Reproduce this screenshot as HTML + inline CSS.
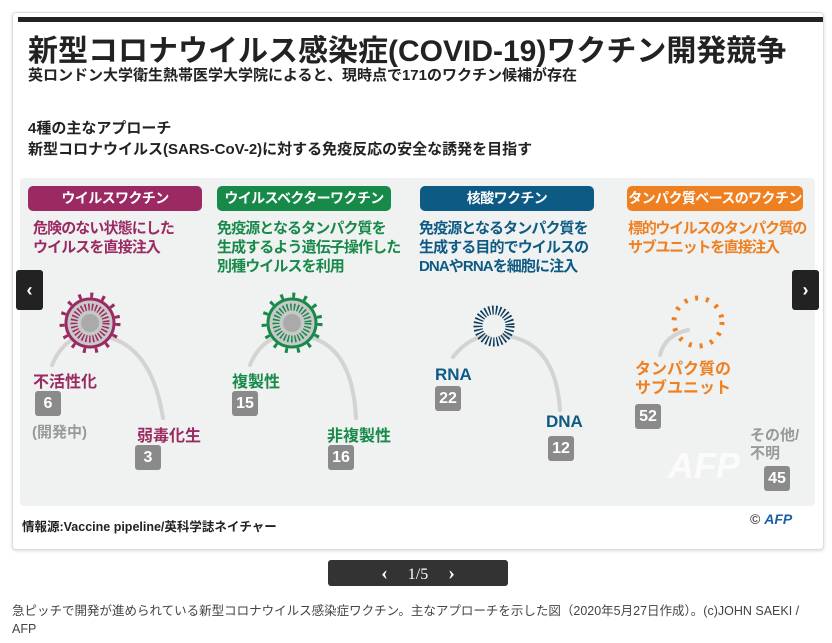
<!DOCTYPE html>
<html><head><meta charset="utf-8"><style>
*{margin:0;padding:0;box-sizing:border-box}
body{width:832px;height:643px;background:#fff;font-family:"Liberation Sans","Noto Sans CJK JP",sans-serif;position:relative;overflow:hidden}
.a{position:absolute;white-space:nowrap}
.card{position:absolute;left:12px;top:12px;width:812px;height:538px;border:1px solid #ddd;border-radius:4px;box-shadow:0 1px 3px rgba(0,0,0,.15);background:#fff}
.b{font-weight:bold}
.pill{position:absolute;top:186px;height:25px;border-radius:5px;color:#fff;font-weight:bold;font-size:14px;letter-spacing:-0.6px;text-align:center;line-height:25px}
.box{position:absolute;width:26px;height:25px;background:#8a8a8a;border-radius:3px;color:#fff;font-size:16px;font-weight:bold;text-align:center;line-height:25px}
.t{font-size:15px;font-weight:bold;line-height:19px;letter-spacing:-0.9px}
.nav{position:absolute;top:270px;width:27px;height:40px;background:#222;border-radius:3px;color:#fff;font-size:18px;font-weight:bold;text-align:center;line-height:40px}
</style></head><body>
<div class="card"></div>
<div class="a" style="left:18px;top:17px;width:805px;height:5px;background:#222"></div>
<div class="a b" style="left:28px;top:26px;font-size:30px;color:#222;letter-spacing:0px">新型コロナウイルス感染症(COVID-19)ワクチン開発競争</div>
<div class="a b" style="left:28px;top:64px;font-size:15px;color:#222">英ロンドン大学衛生熱帯医学大学院によると、現時点で171のワクチン候補が存在</div>
<div class="a b" style="left:28px;top:117px;font-size:15px;color:#222">4種の主なアプローチ</div>
<div class="a b" style="left:28px;top:138px;font-size:15px;color:#222">新型コロナウイルス(SARS-CoV-2)に対する免疫反応の安全な誘発を目指す</div>
<div class="a" style="left:20px;top:178px;width:795px;height:328px;background:#f0f1f1;border-radius:4px"></div>
<div class="pill" style="left:28px;width:174px;background:#9b2a62">ウイルスワクチン</div>
<div class="pill" style="left:217px;width:174px;background:#178a4a">ウイルスベクターワクチン</div>
<div class="pill" style="left:420px;width:174px;background:#0d5a84">核酸ワクチン</div>
<div class="pill" style="left:627px;width:176px;background:#ee8022">タンパク質ベースのワクチン</div>
<div class="a t" style="left:33px;top:219px;color:#9b2a62">危険のない状態にした<br>ウイルスを直接注入</div>
<div class="a t" style="left:217px;top:219px;color:#178a4a">免疫源となるタンパク質を<br>生成するよう遺伝子操作した<br>別種ウイルスを利用</div>
<div class="a t" style="left:419px;top:219px;color:#0d5a84">免疫源となるタンパク質を<br>生成する目的でウイルスの<br>DNAやRNAを細胞に注入</div>
<div class="a t" style="left:628px;top:219px;color:#ee8022;letter-spacing:-1.3px">標的ウイルスのタンパク質の<br>サブユニットを直接注入</div>
<svg class="a" style="left:0;top:0" width="832" height="643">
<g fill="none" stroke="#d3d3d3" stroke-width="4" stroke-linecap="round">
<path d="M52 365 Q65 335 90 335 Q150 335 163 418"/>
<path d="M250 365 Q262 335 292 335 Q352 335 356 418"/>
<path d="M453 357 Q470 335 494 335 Q555 335 560 410"/>
<path d="M660 355 Q665 335 688 330"/>
</g>
<g>
<circle cx="90" cy="323" r="28" fill="none" stroke="#9b2a62" stroke-width="5" stroke-dasharray="3 9"/>
<circle cx="90" cy="323" r="24" fill="#c8c8c8" stroke="#9b2a62" stroke-width="3"/>
<circle cx="90" cy="323" r="16" fill="none" stroke="#9b2a62" stroke-width="7" stroke-dasharray="1.5 2"/>
<circle cx="90" cy="323" r="9" fill="#aaa"/>
<circle cx="292" cy="323" r="28" fill="none" stroke="#178a4a" stroke-width="5" stroke-dasharray="3 9"/>
<circle cx="292" cy="323" r="24" fill="#c8c8c8" stroke="#178a4a" stroke-width="3"/>
<circle cx="292" cy="323" r="16" fill="none" stroke="#178a4a" stroke-width="7" stroke-dasharray="1.5 2"/>
<circle cx="292" cy="323" r="9" fill="#aaa"/>
<circle cx="494" cy="326" r="16" fill="none" stroke="#0d3a5a" stroke-width="9" stroke-dasharray="1.5 2"/>
<circle cx="494" cy="326" r="11" fill="#f0f1f1"/>
<circle cx="698" cy="322" r="24" fill="none" stroke="#ee8022" stroke-width="5" stroke-dasharray="3 8"/>
</g>
</svg>
<div class="a b" style="left:33px;top:368px;font-size:16px;color:#9b2a62">不活性化</div>
<div class="box" style="left:35px;top:391px">6</div>
<div class="a b" style="left:32px;top:421px;font-size:15px;color:#999">(開発中)</div>
<div class="a b" style="left:137px;top:422px;font-size:16px;color:#9b2a62">弱毒化生</div>
<div class="box" style="left:135px;top:445px">3</div>
<div class="a b" style="left:232px;top:368px;font-size:16px;color:#178a4a">複製性</div>
<div class="box" style="left:232px;top:391px">15</div>
<div class="a b" style="left:327px;top:422px;font-size:16px;color:#178a4a">非複製性</div>
<div class="box" style="left:328px;top:445px">16</div>
<div class="a b" style="left:435px;top:365px;font-size:17px;color:#0d5a84">RNA</div>
<div class="box" style="left:435px;top:386px">22</div>
<div class="a b" style="left:546px;top:412px;font-size:17px;color:#0d5a84">DNA</div>
<div class="box" style="left:548px;top:436px">12</div>
<div class="a t" style="left:635px;top:360px;color:#ee8022;font-size:16px;letter-spacing:0">タンパク質の<br>サブユニット</div>
<div class="box" style="left:635px;top:404px">52</div>
<div class="a b" style="left:750px;top:427px;font-size:15px;line-height:18px;color:#999">その他/<br>不明</div>
<div class="box" style="left:764px;top:466px">45</div>
<div class="a b" style="left:668px;top:445px;font-size:36px;font-style:italic;color:rgba(255,255,255,.7)">AFP</div>
<div class="nav" style="left:16px">‹</div>
<div class="nav" style="left:792px">›</div>
<div class="a b" style="left:22px;top:516px;font-size:12.5px;color:#222">情報源:Vaccine pipeline/英科学誌ネイチャー</div>
<div class="a b" style="left:750px;top:511px;font-size:14px;color:#1c5fa8"><span style="color:#555">©</span> <i>AFP</i></div>
<div class="a" style="left:328px;top:560px;width:180px;height:26px;background:#333;border-radius:3px;color:#fff;font-size:16px;text-align:center;line-height:26px;font-family:'Liberation Serif',serif"><b style="font-size:20px">‹</b>&nbsp;&nbsp;&nbsp;&nbsp;&nbsp;1/5&nbsp;&nbsp;&nbsp;&nbsp;&nbsp;<b style="font-size:20px">›</b></div>
<div class="a" style="left:12px;top:602px;font-size:12.5px;line-height:18px;color:#444">急ピッチで開発が進められている新型コロナウイルス感染症ワクチン。主なアプローチを示した図（2020年5月27日作成）。(c)JOHN SAEKI /<br>AFP</div>
</body></html>
